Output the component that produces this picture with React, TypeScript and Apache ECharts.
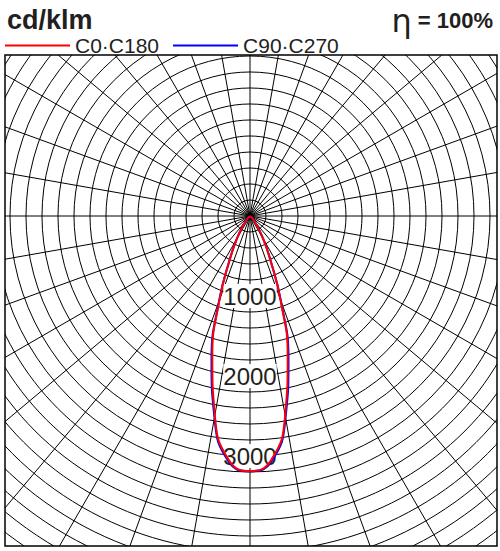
import * as echarts from 'echarts';
import { useEffect, useRef } from 'react';

// gamma angles (deg) and luminous intensity (cd/klm)
const gammaAngles = [-90, -80, -70, -60, -50, -45, -40, -35, -30, -25, -20, -15, -10, -5, 0, 5, 10, 15, 20, 25, 30, 35, 40, 45, 50, 60, 70, 80, 90];
const c0c180 = [0, 0, 2, 6, 20, 40, 80, 160, 320, 590, 1110, 1820, 2530, 3060, 3190, 3060, 2530, 1820, 1110, 590, 320, 160, 80, 40, 20, 6, 2, 0, 0];
const c90c270 = [0, 0, 2, 6, 20, 40, 82, 165, 330, 600, 1130, 1860, 2560, 3080, 3190, 3080, 2560, 1860, 1130, 600, 330, 165, 82, 40, 20, 6, 2, 0, 0];
const radiusLabels = [1000, 2000, 3000];

const toPolar = (vals: number[]) =>
  gammaAngles.map((a, i) => [vals[i], a < 0 ? a + 360 : a]);

export default function App() {
  const ref = useRef<HTMLDivElement>(null);

  useEffect(() => {
    if (!ref.current) return;
    const chart = echarts.init(ref.current, null, { renderer: 'svg' });

    // white frame around the square plot so the polar grid is clipped
    const box = { l: 5, t: 55, r: 497, b: 546 };
    const mask = (x: number, y: number, w: number, h: number) => ({
      type: 'rect',
      z: 3,
      silent: true,
      shape: { x, y, width: w, height: h },
      style: { fill: '#fff' }
    });

    chart.setOption({
      animation: false,
      title: [
        {
          text: 'cd/klm',
          left: 2,
          top: 1,
          textStyle: { fontFamily: 'Liberation Sans', fontWeight: 'bold', fontSize: 27, color: '#231f20' }
        },
        {
          text: '{eta|η}{pct| = 100%}',
          right: 2,
          top: 0,
          textStyle: {
            rich: {
              eta: { fontFamily: 'DejaVu Sans', fontWeight: 'normal', fontSize: 32, color: '#231f20' },
              pct: { fontFamily: 'Liberation Sans', fontWeight: 'bold', fontSize: 22, color: '#231f20', padding: [0, 0, 2, 0] }
            }
          }
        }
      ],
      legend: {
        left: 0,
        top: 30,
        icon: 'rect',
        itemWidth: 65,
        itemHeight: 2,
        itemGap: 14,
        data: ['C0·C180', 'C90·C270'],
        textStyle: { fontFamily: 'Liberation Sans', fontSize: 21, color: '#231f20' }
      },
      polar: { center: [250, 216], radius: 432 },
      angleAxis: {
        type: 'value',
        min: 0,
        max: 360,
        interval: 10,
        startAngle: 270,
        clockwise: true,
        axisLine: { show: false },
        axisTick: { show: false },
        axisLabel: { show: false },
        splitLine: { show: true, lineStyle: { color: '#000', width: 1 } }
      },
      radiusAxis: {
        type: 'value',
        min: 0,
        max: 5400,
        interval: 200,
        z: 1,
        axisLine: { show: false },
        axisTick: { show: false },
        axisLabel: {
          margin: 0,
          align: 'center',
          verticalAlign: 'middle',
          formatter: (v: number) => (radiusLabels.includes(v) ? `{a|${v}}` : ''),
          rich: {
            a: {
              fontFamily: 'Liberation Sans',
              fontSize: 24,
              color: '#231f20',
              backgroundColor: '#fff',
              padding: [0, 0]
            }
          }
        },
        splitLine: { show: true, lineStyle: { color: '#000', width: 1 } }
      },
      graphic: [
        mask(0, 0, 500, box.t),
        mask(0, box.b, 500, 551 - box.b),
        mask(0, 0, box.l, 551),
        mask(box.r, 0, 500 - box.r, 551),
        {
          type: 'rect',
          z: 3,
          silent: true,
          shape: { x: box.l, y: box.t, width: box.r - box.l, height: box.b - box.t },
          style: { fill: 'none', stroke: '#000', lineWidth: 1.5 }
        }
      ],
      series: [
        {
          name: 'C90·C270',
          type: 'line',
          coordinateSystem: 'polar',
          symbol: 'none',
          smooth: true,
          lineStyle: { color: '#0000ff', width: 2 },
          itemStyle: { color: '#0000ff' },
          data: toPolar(c90c270)
        },
        {
          name: 'C0·C180',
          type: 'line',
          coordinateSystem: 'polar',
          symbol: 'none',
          smooth: true,
          lineStyle: { color: '#ff0000', width: 2 },
          itemStyle: { color: '#ff0000' },
          data: toPolar(c0c180)
        }
      ]
    });

    return () => chart.dispose();
  }, []);

  return (
    <div
      ref={ref}
      style={{ position: 'fixed', left: 0, top: 0, width: 500, height: 551, background: '#fff' }}
    />
  );
}
